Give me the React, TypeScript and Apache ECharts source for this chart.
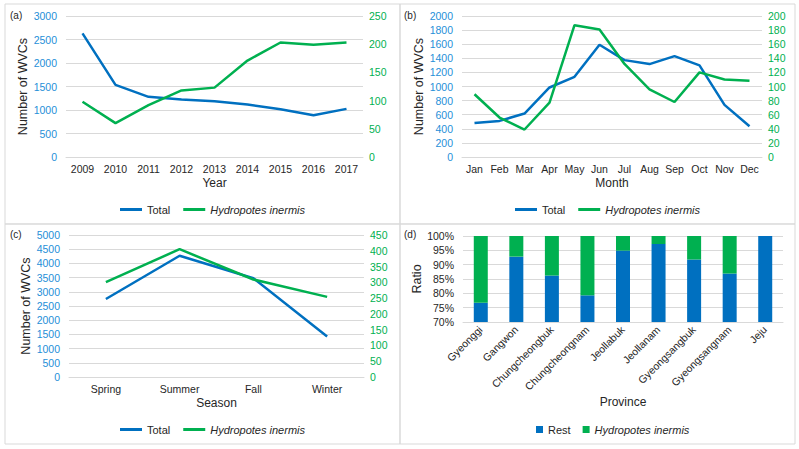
import React, { useEffect, useRef } from 'react';
import * as echarts from 'echarts';

const years = ['2009', '2010', '2011', '2012', '2013', '2014', '2015', '2016', '2017'];
const yearTotal = [2630, 1535, 1280, 1223, 1187, 1116, 1017, 889, 1024];
const yearHydro = [98, 60, 92, 118, 123, 171, 203, 199, 203];

const months = ['Jan', 'Feb', 'Mar', 'Apr', 'May', 'Jun', 'Jul', 'Aug', 'Sep', 'Oct', 'Nov', 'Dec'];
const monthTotal = [483, 512, 616, 986, 1137, 1592, 1374, 1318, 1431, 1299, 739, 436];
const monthHydro = [89, 56, 39, 77, 187, 181, 132, 96, 78, 120, 110, 108];

const seasons = ['Spring', 'Summer', 'Fall', 'Winter'];
const seasonTotal = [2748, 4269, 3479, 1427];
const seasonHydro = [301, 405, 309, 254];

const provinces = ['Gyeonggi', 'Gangwon', 'Chungcheongbuk', 'Chungcheongnam', 'Jeollabuk', 'Jeollanam', 'Gyeongsangbuk', 'Gyeongsangnam', 'Jeju'];
const provinceRest = [76.7, 92.8, 86.2, 79.3, 94.9, 97.2, 91.8, 86.9, 100];
const provinceHydro = [23.3, 7.2, 13.8, 20.7, 5.1, 2.8, 8.2, 13.1, 0];

const BLUE = '#0070C0';
const GREEN = '#00B050';
const BLUE_LABEL = '#1F8FD8';
const GRID_LINE = '#d9d9d9';
const FONT = 'Liberation Sans, Arial, sans-serif';
const TEXT = '#262626';
const HYDRO = 'Hydropotes inermis';
const TICK = 10.5;

export default function App() {
  const ref = useRef<HTMLDivElement>(null);

  useEffect(() => {
    if (!ref.current) return;
    const chart = echarts.init(ref.current, undefined, { renderer: 'svg' });

    const catAxis = (gridIndex: number, data: string[], name: string, nameGap: number, extra: any = {}) => ({
      type: 'category',
      gridIndex,
      data,
      name,
      nameLocation: 'middle',
      nameGap,
      nameTextStyle: { fontSize: 12, color: TEXT, fontFamily: FONT },
      axisLine: { show: true, lineStyle: { color: GRID_LINE } },
      axisTick: { show: false },
      axisLabel: { fontSize: TICK, color: TEXT, fontFamily: FONT, margin: 6, interval: 0, ...(extra.axisLabel || {}) },
    });

    const plain = (v: number) => String(v);

    const leftAxis = (gridIndex: number, max: number, interval: number, name: string, nameGap: number, color = BLUE_LABEL, formatter: any = plain, min = 0) => ({
      type: 'value',
      gridIndex,
      min,
      max,
      interval,
      position: 'left',
      name,
      nameLocation: 'middle',
      nameGap,
      nameTextStyle: { fontSize: 12.5, color: TEXT, fontFamily: FONT },
      axisLine: { show: false },
      axisTick: { show: false },
      axisLabel: { fontSize: TICK, color, fontFamily: FONT, margin: 9, formatter },
      splitLine: { show: true, lineStyle: { color: GRID_LINE, width: 1 } },
    });

    const rightAxis = (gridIndex: number, max: number, interval: number) => ({
      type: 'value',
      gridIndex,
      min: 0,
      max,
      interval,
      position: 'right',
      axisLine: { show: false },
      axisTick: { show: false },
      axisLabel: { fontSize: TICK, color: GREEN, fontFamily: FONT, margin: 6, formatter: plain },
      splitLine: { show: false },
    });

    const lineSeries = (name: string, xAxisIndex: number, yAxisIndex: number, data: number[], color: string) => ({
      type: 'line',
      name,
      xAxisIndex,
      yAxisIndex,
      data,
      showSymbol: false,
      symbol: 'none',
      lineStyle: { color, width: 2.5 },
      itemStyle: { color },
    });

    const legendFormatter = (n: string) => (n === HYDRO ? `{i|${n}}` : n);
    const legendText = {
      fontSize: 11,
      color: TEXT,
      fontFamily: FONT,
      rich: { i: { fontStyle: 'italic', fontSize: 11, color: TEXT, fontFamily: FONT } },
    };
    const lineLegend = (left: number, top: number) => ({
      data: [
        { name: 'Total', icon: 'rect' },
        { name: HYDRO, icon: 'rect' },
      ],
      left,
      top,
      itemWidth: 22,
      itemHeight: 3,
      itemGap: 13,
      selectedMode: false,
      formatter: legendFormatter,
      textStyle: legendText,
    });

    const option: any = {
      animation: false,
      backgroundColor: '#ffffff',
      textStyle: { fontFamily: FONT },
      grid: [
        { left: 66, top: 16, width: 297, height: 141 },
        { left: 462, top: 16, width: 300, height: 141 },
        { left: 69, top: 235, width: 295, height: 142 },
        { left: 463, top: 236, width: 320, height: 86 },
      ],
      xAxis: [
        catAxis(0, years, 'Year', 20),
        catAxis(1, months, 'Month', 20),
        catAxis(2, seasons, 'Season', 20),
        catAxis(3, provinces, 'Province', 69, { axisLabel: { rotate: 45, margin: 6 } }),
      ],
      yAxis: [
        leftAxis(0, 3000, 500, 'Number of WVCs', 34),
        rightAxis(0, 250, 50),
        leftAxis(1, 2000, 200, 'Number of WVCs', 35),
        rightAxis(1, 200, 20),
        leftAxis(2, 5000, 500, 'Number of WVCs', 36),
        rightAxis(2, 450, 50),
        leftAxis(3, 100, 5, 'Ratio', 35, TEXT, '{value}%', 70),
      ],
      legend: [
        lineLegend(115, 199),
        lineLegend(510, 199),
        lineLegend(115, 419),
        {
          data: [
            { name: 'Rest', icon: 'rect' },
            { name: HYDRO, icon: 'rect' },
          ],
          left: 531,
          top: 419,
          itemWidth: 7,
          itemHeight: 7,
          itemGap: 12,
          selectedMode: false,
          formatter: legendFormatter,
          textStyle: legendText,
        },
      ],
      series: [
        lineSeries('Total', 0, 0, yearTotal, BLUE),
        lineSeries(HYDRO, 0, 1, yearHydro, GREEN),
        lineSeries('Total', 1, 2, monthTotal, BLUE),
        lineSeries(HYDRO, 1, 3, monthHydro, GREEN),
        lineSeries('Total', 2, 4, seasonTotal, BLUE),
        lineSeries(HYDRO, 2, 5, seasonHydro, GREEN),
        {
          type: 'bar',
          name: 'Rest',
          xAxisIndex: 3,
          yAxisIndex: 6,
          stack: 'ratio',
          data: provinceRest,
          barWidth: 14,
          itemStyle: { color: BLUE },
        },
        {
          type: 'bar',
          name: HYDRO,
          xAxisIndex: 3,
          yAxisIndex: 6,
          stack: 'ratio',
          data: provinceHydro,
          barWidth: 14,
          itemStyle: { color: GREEN },
        },
      ],
      graphic: [
        { type: 'rect', shape: { x: 5, y: 4, width: 395, height: 220 }, style: { fill: 'none', stroke: GRID_LINE, lineWidth: 1 }, silent: true },
        { type: 'rect', shape: { x: 400, y: 4, width: 395, height: 220 }, style: { fill: 'none', stroke: GRID_LINE, lineWidth: 1 }, silent: true },
        { type: 'rect', shape: { x: 5, y: 224, width: 395, height: 220 }, style: { fill: 'none', stroke: GRID_LINE, lineWidth: 1 }, silent: true },
        { type: 'rect', shape: { x: 400, y: 224, width: 395, height: 220 }, style: { fill: 'none', stroke: GRID_LINE, lineWidth: 1 }, silent: true },
        { type: 'text', left: 10, top: 10, style: { text: '(a)', fontSize: 10, fill: TEXT, fontFamily: FONT } },
        { type: 'text', left: 404, top: 10, style: { text: '(b)', fontSize: 10, fill: TEXT, fontFamily: FONT } },
        { type: 'text', left: 10, top: 229, style: { text: '(c)', fontSize: 10, fill: TEXT, fontFamily: FONT } },
        { type: 'text', left: 404, top: 229, style: { text: '(d)', fontSize: 10, fill: TEXT, fontFamily: FONT } },
      ],
    };

    chart.setOption(option);
    return () => chart.dispose();
  }, []);

  return (
    <div
      ref={ref}
      style={{ position: 'fixed', left: 0, top: 0, width: 799, height: 449, background: '#fff' }}
    />
  );
}
